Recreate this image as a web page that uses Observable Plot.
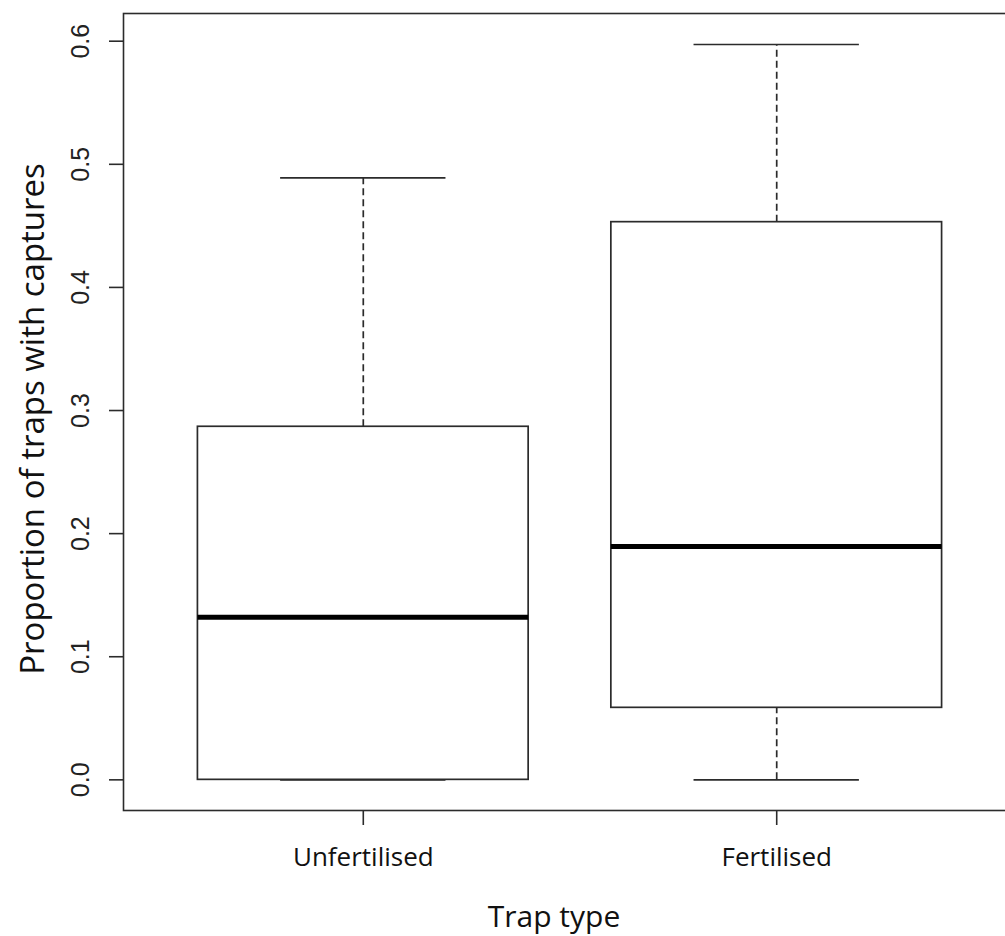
<!DOCTYPE html>
<html>
<head>
<meta charset="utf-8">
<script src="https://cdn.jsdelivr.net/npm/d3@7"></script>
<script src="https://cdn.jsdelivr.net/npm/@observablehq/plot@0.6"></script>
<style>
  html, body { margin: 0; padding: 0; background: white; overflow: hidden; width: 1005px; height: 936px; }
</style>
</head>
<body>
<div id="chart"></div>
<script>
// Data
const categories = ["Unfertilised", "Fertilised"];
const positions = [1, 2];
const whiskerLow = [0.0, 0.0];
const q1 = [0.0, 0.0585];
const median = [0.132, 0.1895];
const q3 = [0.2868, 0.453];
const whiskerHigh = [0.489, 0.5973];
const yTicks = [0.0, 0.1, 0.2, 0.3, 0.4, 0.5, 0.6];
const xTitle = "Trap type";
const yTitle = "Proportion of traps with captures";

const boxes = categories.map((c, i) => ({
  cat: c, x: positions[i], lo: whiskerLow[i], q1: q1[i], med: median[i], q3: q3[i], hi: whiskerHigh[i]
}));

const line = "#2b2b2b";
const labelFont = "'Open Sans', sans-serif";
const tickFont = "'Liberation Sans', Arial, sans-serif";

const chart = Plot.plot({
  width: 1016,
  height: 936,
  marginLeft: 123,
  marginRight: 0,
  marginTop: 13,
  marginBottom: 126,
  style: "max-width:none; overflow:visible; background:white;",
  x: {type: "linear", domain: [0.42, 2.58], axis: null},
  y: {domain: [-0.0249, 0.6225], axis: null},
  marks: [
    Plot.frame({stroke: line, strokeWidth: 1.6}),
    // whiskers (dashed)
    Plot.ruleX(boxes, {x: "x", y1: "q3", y2: "hi", stroke: line, strokeWidth: 1.7, strokeDasharray: "7,4"}),
    Plot.ruleX(boxes, {x: "x", y1: "lo", y2: "q1", stroke: line, strokeWidth: 1.7, strokeDasharray: "7,4"}),
    // whisker caps
    Plot.ruleY(boxes, {y: "hi", x1: d => d.x - 0.2, x2: d => d.x + 0.2, stroke: line, strokeWidth: 1.7}),
    Plot.ruleY(boxes, {y: "lo", x1: d => d.x - 0.2, x2: d => d.x + 0.2, stroke: line, strokeWidth: 1.7}),
    // boxes
    Plot.rect(boxes, {x1: d => d.x - 0.4, x2: d => d.x + 0.4, y1: "q1", y2: "q3", fill: "white", stroke: line, strokeWidth: 1.7}),
    // medians
    Plot.ruleY(boxes, {y: "med", x1: d => d.x - 0.4, x2: d => d.x + 0.4, stroke: "black", strokeWidth: 5}),
    // y axis
    Plot.axisY(yTicks, {
      anchor: "left", tickSize: 14, tickPadding: 21, tickRotate: -90,
      tickFormat: d => d.toFixed(1), fontSize: 25, fontFamily: tickFont,
      stroke: line, strokeWidth: 1.6, fill: "#222", label: null
    }),
    // x axis
    Plot.axisX(positions, {
      anchor: "bottom", tickSize: 15, tickPadding: 22,
      tickFormat: d => categories[d - 1], fontSize: 26, fontFamily: labelFont,
      stroke: line, strokeWidth: 1.6, fill: "#111", label: null
    }),
    // axis titles
    Plot.text([xTitle], {frameAnchor: "bottom", textAnchor: "middle", dx: -16, dy: 116, lineAnchor: "bottom", fontSize: 30, fontFamily: labelFont, fill: "#111"}),
    Plot.text([yTitle], {frameAnchor: "left", textAnchor: "middle", rotate: -90, dx: -80, dy: 7, lineAnchor: "bottom", fontSize: 33, fontFamily: labelFont, fill: "#111"})
  ]
});

document.getElementById("chart").appendChild(chart);
</script>
</body>
</html>
